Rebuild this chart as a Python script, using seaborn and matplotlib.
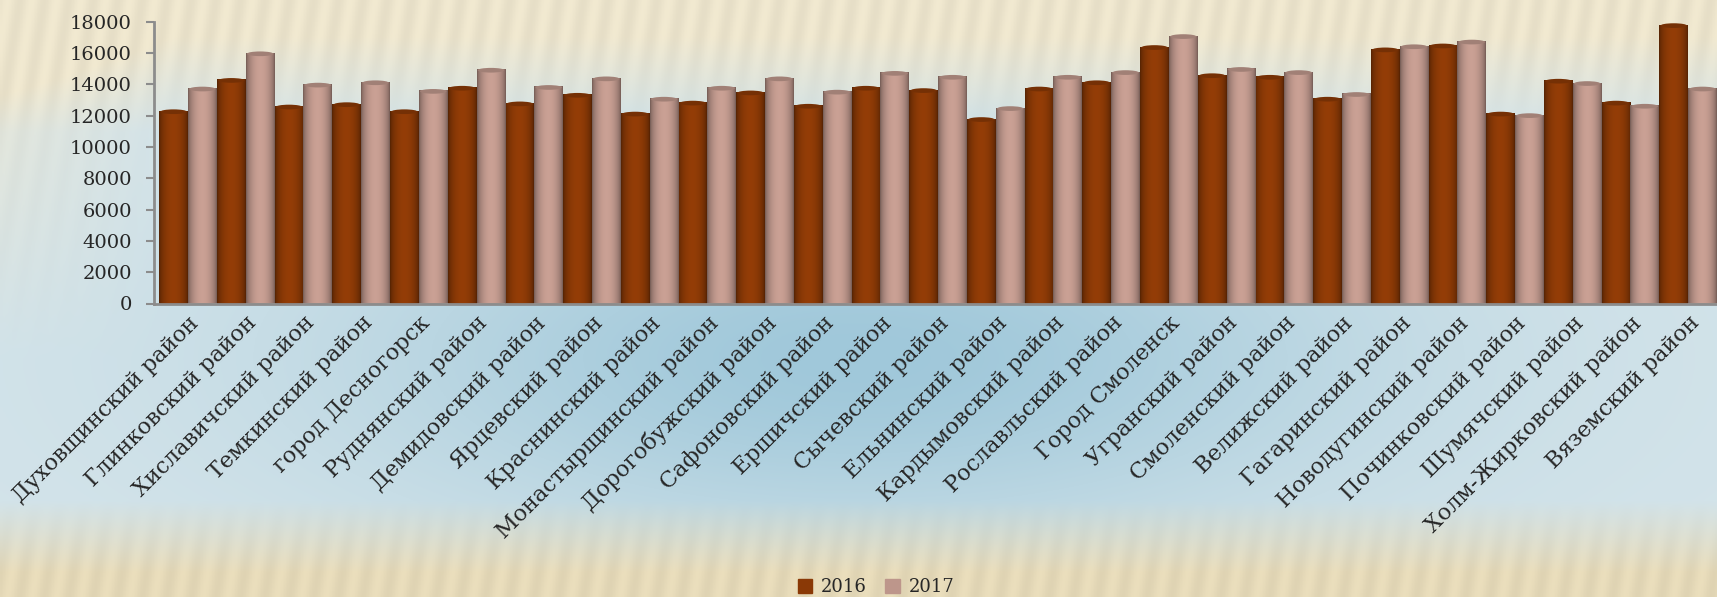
import numpy as np
import pandas as pd
import matplotlib
matplotlib.use('Agg')
import matplotlib.pyplot as plt
from matplotlib.patches import Patch
from matplotlib.colors import to_rgb
import seaborn as sns

# Районы Смоленской области и значения за два года
rayony = [
    'Духовщинский район', 'Глинковский район', 'Хиславичский район', 'Темкинский район',
    'город Десногорск', 'Руднянский район', 'Демидовский район', 'Ярцевский район',
    'Краснинский район', 'Монастырщинский район', 'Дорогобужский район', 'Сафоновский район',
    'Ершичский район', 'Сычевский район', 'Ельнинский район', 'Кардымовский район',
    'Рославльский район', 'Город Смоленск', 'Угранский район', 'Смоленский район',
    'Велижский район', 'Гагаринский район', 'Новодугинский район', 'Починковский район',
    'Шумячский район', 'Холм-Жирковский район', 'Вяземский район',
]
znach_2016 = [12250, 14250, 12550, 12700, 12250, 13750, 12750, 13300, 12100, 12800,
              13450, 12600, 13750, 13600, 11750, 13700, 14100, 16350, 14550, 14450,
              13050, 16200, 16450, 12100, 14200, 12800, 17750]
znach_2017 = [13700, 15950, 13950, 14100, 13550, 14900, 13800, 14350, 13050, 13750,
              14350, 13500, 14700, 14450, 12450, 14450, 14750, 17050, 14950, 14750,
              13350, 16400, 16700, 12000, 14050, 12600, 13700]
goda = ['2016', '2017']
y_tiki = list(range(0, 18001, 2000))

CVET = {'2016': '#8A3906', '2017': '#BD968B'}
SERYI = '#8C8C8C'

n = len(rayony)
df = pd.DataFrame({
    'Район': rayony * 2,
    'Значение': znach_2016 + znach_2017,
    'Год': [goda[0]] * n + [goda[1]] * n,
})

sns.set_theme(style='white')
plt.rcParams['font.family'] = ['DejaVu Serif']

fig = plt.figure(figsize=(17.17, 5.97), dpi=100)

# фон: бежевый сверху и снизу, голубой посередине
bg = fig.add_axes([0, 0, 1, 1], zorder=-10)
h, w = 300, 600
yy = np.linspace(0, 1, h)[:, None, None]
xx = np.linspace(0, 1, w)[None, :, None]
bezh_verh = np.array([236, 228, 204]) / 255
bezh_niz = np.array([229, 217, 184]) / 255
goluboi_krai = np.array([212, 228, 234]) / 255
goluboi_centr = np.array([160, 200, 218]) / 255
c = np.exp(-((xx - 0.5) / 0.3) ** 2) * np.exp(-((yy - 0.6) / 0.3) ** 2)
fon = goluboi_krai * (1 - c) + goluboi_centr * c
t_verh = np.clip((0.22 - yy) / 0.16, 0, 1) + np.clip((0.1 - xx) / 0.1, 0, 1) * np.clip((0.6 - yy) / 0.5, 0, 1) * 0.7
t_verh = np.clip(t_verh, 0, 1)
t_niz = np.clip((yy - 0.84) / 0.12, 0, 1)
polosy = 1 + 0.025 * np.sin(xx * 2 * np.pi * 70 + yy * 25)
fon = fon * (1 - t_verh) + bezh_verh * polosy * t_verh
fon = fon * (1 - t_niz) + bezh_niz * polosy * t_niz
bg.imshow(np.clip(fon, 0, 1), aspect='auto', extent=[0, 1, 0, 1])
bg.axis('off')

ax = fig.add_axes([154 / 1717, 1 - 303.5 / 597, (1717 - 154) / 1717, 281.8 / 597])
ax.patch.set_alpha(0)

sns.barplot(data=df, x='Район', y='Значение', hue='Год', palette=CVET,
            width=1.0, saturation=1, linewidth=0, legend=False, ax=ax)

# объёмная заливка столбиков (цилиндры)
u = np.linspace(0, 1, 40)
ten = 0.62 + 0.45 * np.sin(np.pi * u) ** 0.6
for p in list(ax.patches):
    x0, wdt, hgt = p.get_x(), p.get_width(), p.get_height()
    if hgt <= 0:
        continue
    base = np.array(to_rgb(p.get_facecolor()))
    svet = np.clip(base[None, :] * ten[:, None], 0, 1)
    ax.imshow(svet[None, :, :], extent=[x0, x0 + wdt, 0, hgt], aspect='auto',
              interpolation='bilinear', zorder=p.get_zorder() + 0.1)
    # скруглённая верхушка
    cap = np.clip(base * 0.85, 0, 1)
    ax.add_patch(matplotlib.patches.Ellipse((x0 + wdt / 2, hgt), wdt * 0.92, 300,
                                            color=cap, zorder=p.get_zorder() + 0.2, lw=0))

ax.set_ylim(0, 18000)
ax.set_yticks(y_tiki)
ax.set_xlim(-0.59, n - 0.5)
ax.set_xlabel('')
ax.set_ylabel('')

for s in ['top', 'right']:
    ax.spines[s].set_visible(False)
for s in ['left', 'bottom']:
    ax.spines[s].set_color(SERYI)
    ax.spines[s].set_linewidth(2)
    ax.spines[s].set_zorder(5)

ax.tick_params(axis='y', left=True, length=6, width=1.5, color=SERYI, labelsize=14, pad=10)
ax.tick_params(axis='x', length=0, labelsize=16, pad=6)
plt.setp(ax.get_xticklabels(), rotation=45, ha='right', rotation_mode='anchor')

fig.legend(handles=[Patch(color=CVET[g], label=g) for g in goda],
           loc='center', bbox_to_anchor=(876 / 1717, 1 - 587 / 597), ncol=2,
           frameon=False, fontsize=13, handlelength=0.8, handleheight=0.8,
           columnspacing=1.0, handletextpad=0.5)

fig.savefig('out.png', dpi=100)
